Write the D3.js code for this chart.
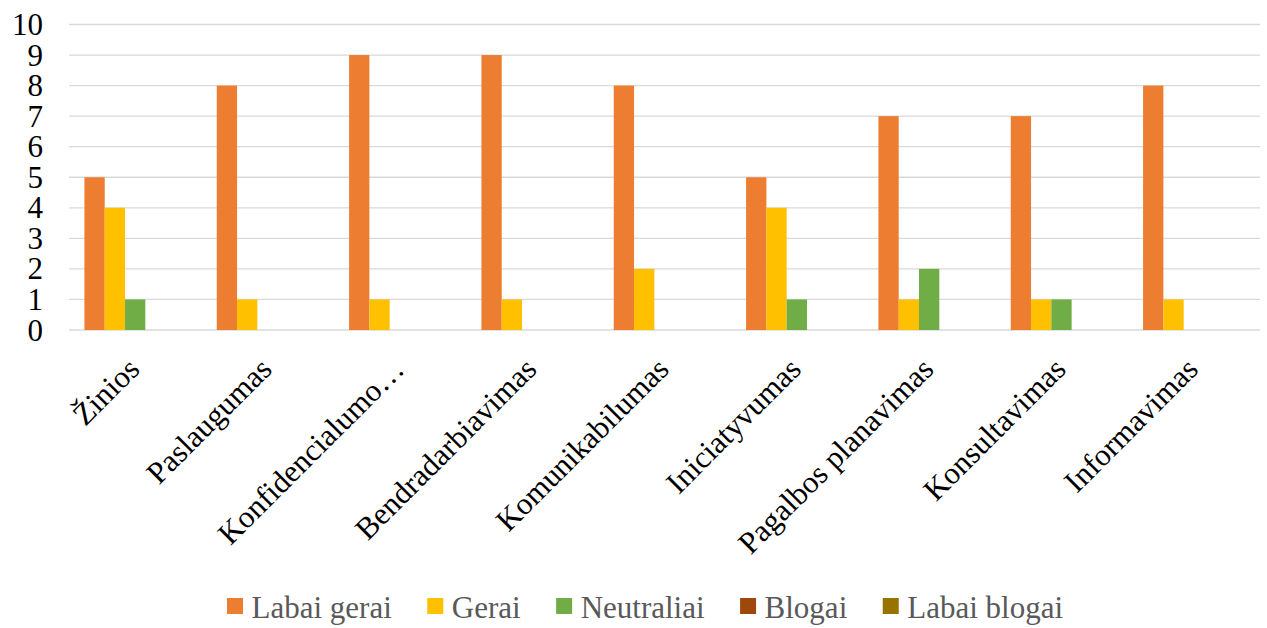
<!DOCTYPE html>
<html>
<head>
<meta charset="utf-8">
<script src="https://cdn.jsdelivr.net/npm/d3@7"></script>
<style>
  html, body { margin: 0; padding: 0; background: #fff; }
</style>
</head>
<body>
<svg id="chart" width="1267" height="628"></svg>
<script>
const categories = ["Žinios", "Paslaugumas", "Konfidencialumo…", "Bendradarbiavimas", "Komunikabilumas", "Iniciatyvumas", "Pagalbos planavimas", "Konsultavimas", "Informavimas"];
const seriesNames = ["Labai gerai", "Gerai", "Neutraliai", "Blogai", "Labai blogai"];
const labaiGerai = [5, 8, 9, 9, 8, 5, 7, 7, 8];
const gerai = [4, 1, 1, 1, 2, 4, 1, 1, 1];
const neutraliai = [1, 0, 0, 0, 0, 1, 2, 1, 0];
const blogai = [0, 0, 0, 0, 0, 0, 0, 0, 0];
const labaiBlogai = [0, 0, 0, 0, 0, 0, 0, 0, 0];
const yTicks = [0, 1, 2, 3, 4, 5, 6, 7, 8, 9, 10];
const colors = ["#ED7D31", "#FFC000", "#70AD47", "#9E480E", "#997300"];

const seriesValues = [labaiGerai, gerai, neutraliai, blogai, labaiBlogai];

const svg = d3.select("#chart");
const plotLeft = 69, plotRight = 1260, plotTop = 24.5, plotBottom = 330;

const y = d3.scaleLinear().domain([0, 10]).range([plotBottom, plotTop]);
const x0 = d3.scaleBand().domain(categories).range([plotLeft, plotRight]).paddingInner(0.233).paddingOuter(0.1165);
const x1 = d3.scaleBand().domain(seriesNames).range([0, x0.bandwidth()]);

// gridlines
svg.append("g").selectAll("line").data(yTicks).join("line")
  .attr("x1", plotLeft).attr("x2", plotRight)
  .attr("y1", d => y(d)).attr("y2", d => y(d))
  .attr("stroke", "#d9d9d9").attr("stroke-width", 1.3);

// y labels
svg.append("g").selectAll("text").data(yTicks).join("text")
  .attr("x", 43).attr("y", d => y(d))
  .attr("dy", "0.34em")
  .attr("text-anchor", "end")
  .attr("font-family", "Liberation Serif")
  .attr("font-size", 31)
  .attr("fill", "#000")
  .text(d => d);

// bars
const groups = svg.append("g").selectAll("g").data(categories).join("g")
  .attr("transform", d => `translate(${x0(d)},0)`);
groups.selectAll("rect")
  .data((c, i) => seriesNames.map((s, j) => ({ s, v: seriesValues[j][i], j })))
  .join("rect")
  .attr("x", d => x1(d.s))
  .attr("width", x1.bandwidth())
  .attr("y", d => y(d.v))
  .attr("height", d => y(0) - y(d.v))
  .attr("fill", d => colors[d.j]);

// x labels
svg.append("g").selectAll("text").data(categories).join("text")
  .attr("transform", d => `translate(${x0(d) + x0.bandwidth() / 2 + 6},371) rotate(-45)`)
  .attr("text-anchor", "end")
  .attr("font-family", "Liberation Serif")
  .attr("font-size", 31)
  .attr("fill", "#000")
  .text(d => d);

// legend
const lg = svg.append("g");
let lx = 227;
seriesNames.forEach((s, j) => {
  lg.append("rect").attr("x", lx).attr("y", 598).attr("width", 16).attr("height", 16).attr("fill", colors[j]);
  const t = lg.append("text").attr("x", lx + 24.5).attr("y", 618)
    .attr("font-family", "Liberation Serif")
    .attr("font-size", 31).attr("fill", "#595959").text(s);
  const w = t.node().getComputedTextLength();
  lx = lx + 24.5 + w + 35.5;
});
</script>
</body>
</html>
